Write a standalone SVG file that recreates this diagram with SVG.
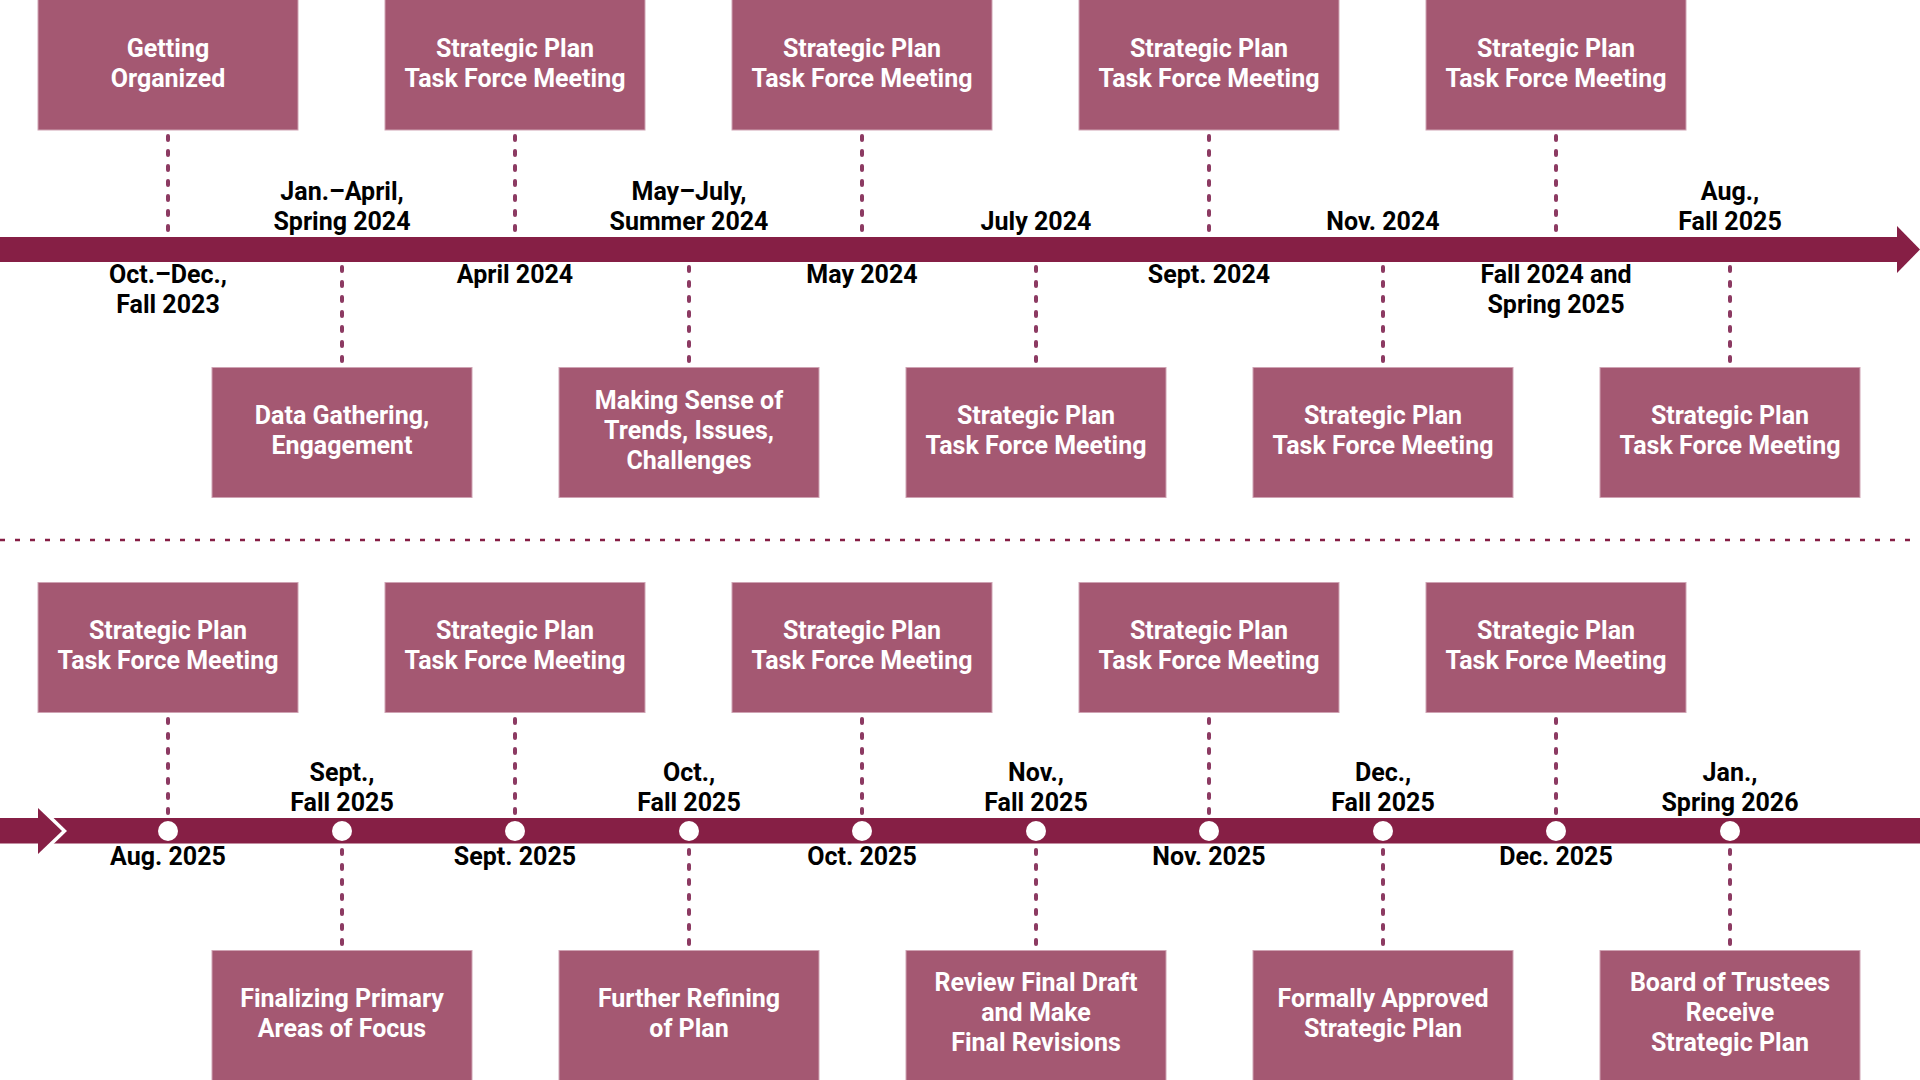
<svg xmlns="http://www.w3.org/2000/svg" width="1920" height="1080" viewBox="0 0 1920 1080">
<style>
.box{fill:#A45872;stroke:#CFA3B3;stroke-width:1}
.bt{font-family:Roboto,"Liberation Sans",sans-serif;font-weight:700;font-size:25px;fill:#FFFFFF;text-anchor:middle}
.dt{font-family:Roboto,"Liberation Sans",sans-serif;font-weight:700;font-size:25px;fill:#000000;text-anchor:middle}
.con{stroke:#8C3A62;stroke-width:4;stroke-linecap:round;stroke-dasharray:4 11;fill:none}
.bar{fill:#861F45}
.dot{fill:#FFFFFF}
</style>
<rect width="1920" height="1080" fill="#FFFFFF"/>
<g id="timeline">
<rect class="bar" x="0" y="237" width="1898" height="25"/>
<polygon class="bar" points="1897,226 1920,249.5 1897,273"/>
<line x1="0" y1="540" x2="1920" y2="540" stroke="#861F45" stroke-width="2.5" stroke-dasharray="5 10"/>
<rect class="bar" x="0" y="818" width="1920" height="25.5"/>
<polygon points="38,803 67,831 38,859" fill="#FFFFFF"/>
<polygon class="bar" points="38,808 62,831 38,854"/>
<circle class="dot" cx="168" cy="831" r="10"/>
<circle class="dot" cx="342" cy="831" r="10"/>
<circle class="dot" cx="515" cy="831" r="10"/>
<circle class="dot" cx="689" cy="831" r="10"/>
<circle class="dot" cx="862" cy="831" r="10"/>
<circle class="dot" cx="1036" cy="831" r="10"/>
<circle class="dot" cx="1209" cy="831" r="10"/>
<circle class="dot" cx="1383" cy="831" r="10"/>
<circle class="dot" cx="1556" cy="831" r="10"/>
<circle class="dot" cx="1730" cy="831" r="10"/>
</g>
<g id="connectors">
<line class="con" x1="168" y1="136" x2="168" y2="232"/>
<line class="con" x1="342" y1="267" x2="342" y2="364"/>
<line class="con" x1="515" y1="136" x2="515" y2="232"/>
<line class="con" x1="689" y1="267" x2="689" y2="364"/>
<line class="con" x1="862" y1="136" x2="862" y2="232"/>
<line class="con" x1="1036" y1="267" x2="1036" y2="364"/>
<line class="con" x1="1209" y1="136" x2="1209" y2="232"/>
<line class="con" x1="1383" y1="267" x2="1383" y2="364"/>
<line class="con" x1="1556" y1="136" x2="1556" y2="232"/>
<line class="con" x1="1730" y1="267" x2="1730" y2="364"/>
<line class="con" x1="168" y1="719" x2="168" y2="815"/>
<line class="con" x1="342" y1="850" x2="342" y2="946"/>
<line class="con" x1="515" y1="719" x2="515" y2="815"/>
<line class="con" x1="689" y1="850" x2="689" y2="946"/>
<line class="con" x1="862" y1="719" x2="862" y2="815"/>
<line class="con" x1="1036" y1="850" x2="1036" y2="946"/>
<line class="con" x1="1209" y1="719" x2="1209" y2="815"/>
<line class="con" x1="1383" y1="850" x2="1383" y2="946"/>
<line class="con" x1="1556" y1="719" x2="1556" y2="815"/>
<line class="con" x1="1730" y1="850" x2="1730" y2="946"/>
</g>
<g id="node-getting-organized">
<rect class="box" x="38" y="-1" width="260" height="131"/>
<text class="bt" x="168" y="57">Getting</text>
<text class="bt" x="168" y="87">Organized</text>
<text class="dt" x="168" y="283">Oct.–Dec.,</text>
<text class="dt" x="168" y="313">Fall 2023</text>
</g>
<g id="node-data-gathering">
<rect class="box" x="212" y="367.5" width="260" height="130"/>
<text class="bt" x="342" y="424">Data Gathering,</text>
<text class="bt" x="342" y="454">Engagement</text>
<text class="dt" x="342" y="200">Jan.–April,</text>
<text class="dt" x="342" y="230">Spring 2024</text>
</g>
<g id="node-april-2024">
<rect class="box" x="385" y="-1" width="260" height="131"/>
<text class="bt" x="515" y="57">Strategic Plan</text>
<text class="bt" x="515" y="87">Task Force Meeting</text>
<text class="dt" x="515" y="283">April 2024</text>
</g>
<g id="node-making-sense">
<rect class="box" x="559" y="367.5" width="260" height="130"/>
<text class="bt" x="689" y="409">Making Sense of</text>
<text class="bt" x="689" y="439">Trends, Issues,</text>
<text class="bt" x="689" y="469">Challenges</text>
<text class="dt" x="689" y="200">May–July,</text>
<text class="dt" x="689" y="230">Summer 2024</text>
</g>
<g id="node-may-2024">
<rect class="box" x="732" y="-1" width="260" height="131"/>
<text class="bt" x="862" y="57">Strategic Plan</text>
<text class="bt" x="862" y="87">Task Force Meeting</text>
<text class="dt" x="862" y="283">May 2024</text>
</g>
<g id="node-july-2024">
<rect class="box" x="906" y="367.5" width="260" height="130"/>
<text class="bt" x="1036" y="424">Strategic Plan</text>
<text class="bt" x="1036" y="454">Task Force Meeting</text>
<text class="dt" x="1036" y="230">July 2024</text>
</g>
<g id="node-sept-2024">
<rect class="box" x="1079" y="-1" width="260" height="131"/>
<text class="bt" x="1209" y="57">Strategic Plan</text>
<text class="bt" x="1209" y="87">Task Force Meeting</text>
<text class="dt" x="1209" y="283">Sept. 2024</text>
</g>
<g id="node-nov-2024">
<rect class="box" x="1253" y="367.5" width="260" height="130"/>
<text class="bt" x="1383" y="424">Strategic Plan</text>
<text class="bt" x="1383" y="454">Task Force Meeting</text>
<text class="dt" x="1383" y="230">Nov. 2024</text>
</g>
<g id="node-fall-2024-spring-2025">
<rect class="box" x="1426" y="-1" width="260" height="131"/>
<text class="bt" x="1556" y="57">Strategic Plan</text>
<text class="bt" x="1556" y="87">Task Force Meeting</text>
<text class="dt" x="1556" y="283">Fall 2024 and</text>
<text class="dt" x="1556" y="313">Spring 2025</text>
</g>
<g id="node-aug-fall-2025">
<rect class="box" x="1600" y="367.5" width="260" height="130"/>
<text class="bt" x="1730" y="424">Strategic Plan</text>
<text class="bt" x="1730" y="454">Task Force Meeting</text>
<text class="dt" x="1730" y="200">Aug.,</text>
<text class="dt" x="1730" y="230">Fall 2025</text>
</g>
<g id="node-aug-2025">
<rect class="box" x="38" y="582.5" width="260" height="130"/>
<text class="bt" x="168" y="639">Strategic Plan</text>
<text class="bt" x="168" y="669">Task Force Meeting</text>
<text class="dt" x="168" y="865">Aug. 2025</text>
</g>
<g id="node-finalizing">
<rect class="box" x="212" y="950.5" width="260" height="131"/>
<text class="bt" x="342" y="1007">Finalizing Primary</text>
<text class="bt" x="342" y="1037">Areas of Focus</text>
<text class="dt" x="342" y="781">Sept.,</text>
<text class="dt" x="342" y="811">Fall 2025</text>
</g>
<g id="node-sept-2025">
<rect class="box" x="385" y="582.5" width="260" height="130"/>
<text class="bt" x="515" y="639">Strategic Plan</text>
<text class="bt" x="515" y="669">Task Force Meeting</text>
<text class="dt" x="515" y="865">Sept. 2025</text>
</g>
<g id="node-further-refining">
<rect class="box" x="559" y="950.5" width="260" height="131"/>
<text class="bt" x="689" y="1007">Further Refining</text>
<text class="bt" x="689" y="1037">of Plan</text>
<text class="dt" x="689" y="781">Oct.,</text>
<text class="dt" x="689" y="811">Fall 2025</text>
</g>
<g id="node-oct-2025">
<rect class="box" x="732" y="582.5" width="260" height="130"/>
<text class="bt" x="862" y="639">Strategic Plan</text>
<text class="bt" x="862" y="669">Task Force Meeting</text>
<text class="dt" x="862" y="865">Oct. 2025</text>
</g>
<g id="node-review-final">
<rect class="box" x="906" y="950.5" width="260" height="131"/>
<text class="bt" x="1036" y="991">Review Final Draft</text>
<text class="bt" x="1036" y="1021">and Make</text>
<text class="bt" x="1036" y="1051">Final Revisions</text>
<text class="dt" x="1036" y="781">Nov.,</text>
<text class="dt" x="1036" y="811">Fall 2025</text>
</g>
<g id="node-nov-2025">
<rect class="box" x="1079" y="582.5" width="260" height="130"/>
<text class="bt" x="1209" y="639">Strategic Plan</text>
<text class="bt" x="1209" y="669">Task Force Meeting</text>
<text class="dt" x="1209" y="865">Nov. 2025</text>
</g>
<g id="node-formally-approved">
<rect class="box" x="1253" y="950.5" width="260" height="131"/>
<text class="bt" x="1383" y="1007">Formally Approved</text>
<text class="bt" x="1383" y="1037">Strategic Plan</text>
<text class="dt" x="1383" y="781">Dec.,</text>
<text class="dt" x="1383" y="811">Fall 2025</text>
</g>
<g id="node-dec-2025">
<rect class="box" x="1426" y="582.5" width="260" height="130"/>
<text class="bt" x="1556" y="639">Strategic Plan</text>
<text class="bt" x="1556" y="669">Task Force Meeting</text>
<text class="dt" x="1556" y="865">Dec. 2025</text>
</g>
<g id="node-board-of-trustees">
<rect class="box" x="1600" y="950.5" width="260" height="131"/>
<text class="bt" x="1730" y="991">Board of Trustees</text>
<text class="bt" x="1730" y="1021">Receive</text>
<text class="bt" x="1730" y="1051">Strategic Plan</text>
<text class="dt" x="1730" y="781">Jan.,</text>
<text class="dt" x="1730" y="811">Spring 2026</text>
</g>
</svg>
